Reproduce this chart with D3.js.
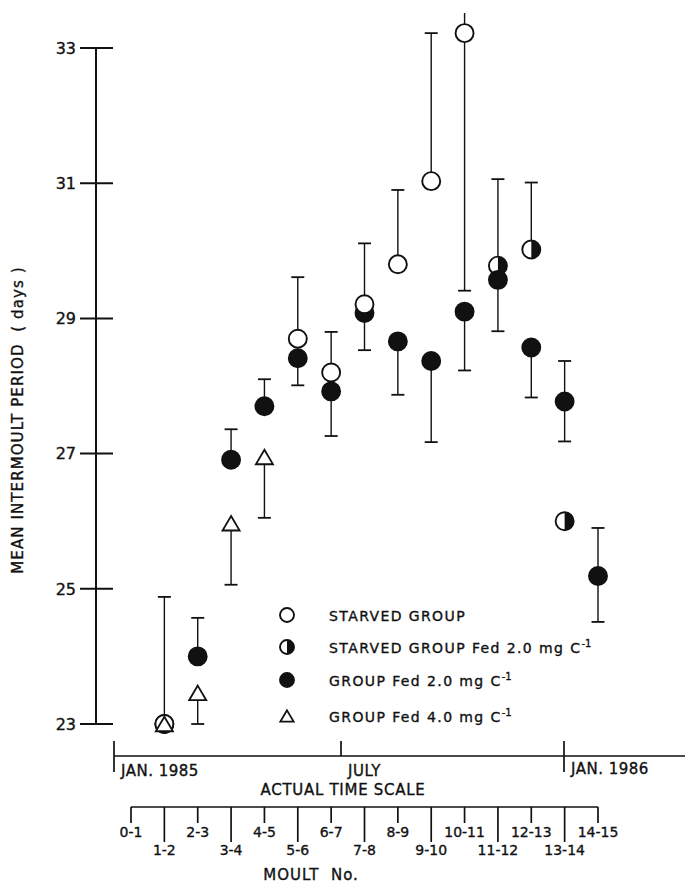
<!DOCTYPE html>
<html>
<head>
<meta charset="utf-8">
<script src="https://cdn.jsdelivr.net/npm/d3@7"></script>
<style>
  body { margin: 0; background: #fff; }
  text { font-family: "DejaVu Sans", sans-serif; fill: #111; stroke: #111; stroke-width: 0.35px; white-space: pre; }
</style>
</head>
<body>
<script>
// moult intervals and y ticks
var moultLabels = ["0-1","1-2","2-3","3-4","4-5","5-6","6-7","7-8","8-9","9-10","10-11","11-12","12-13","13-14","14-15"];
var yTickValues = [23, 25, 27, 29, 31, 33];

// actual time scale
var timeTickDates = ["1985-01-01", "1985-07-01", "1986-01-01"];
var timeTickLabels = ["JAN. 1985", "JULY", "JAN. 1986"];

// starved group (open circles)
var starvedMoult = [1, 5, 6, 7, 8, 9, 10];
var starvedMean  = [23.0, 28.70, 28.20, 29.21, 29.80, 31.03, 33.22];
var starvedLow   = [null, null, null, null, null, null, 29.41];
var starvedHigh  = [24.88, 29.61, 28.80, 30.11, 30.90, 33.22, 37.0];

// starved group fed 2.0 (half filled)
var starvedFedMoult = [11, 12, 13];
var starvedFedMean  = [29.78, 30.02, 26.0];
var starvedFedLow   = [null, null, null];
var starvedFedHigh  = [31.06, 31.01, null];

// group fed 2.0 (filled)
var fed2Moult = [1, 2, 3, 4, 5, 6, 7, 8, 9, 10, 11, 12, 13, 14];
var fed2Mean  = [23.0, 24.0, 26.91, 27.70, 28.41, 27.92, 29.08, 28.66, 28.37, 29.10, 29.57, 28.57, 27.77, 25.19];
var fed2Low   = [null, null, null, null, 28.01, 27.26, 28.53, 27.87, 27.17, 28.23, 28.81, 27.83, 27.18, 24.51];
var fed2High  = [null, 24.57, 27.36, 28.10, null, null, null, null, null, null, null, null, 28.37, 25.90];

// group fed 4.0 (triangles)
var fed4Moult = [1, 2, 3, 4];
var fed4Mean  = [23.0, 23.46, 25.97, 26.95];
var fed4Low   = [null, 23.0, 25.06, 26.05];
var fed4High  = [null, null, null, null];

var legendLabels = ["STARVED GROUP", "STARVED GROUP Fed 2.0 mg C", "GROUP Fed 2.0 mg C", "GROUP Fed 4.0 mg C"];

function makeSeries(kind, m, mean, lo, hi){
  return m.map(function(d, i){
    return {kind: kind, moult: d, mean: mean[i], lo: lo[i], hi: hi[i]};
  });
}
// draw order: half, filled, open, triangle
var series = [
  makeSeries("half", starvedFedMoult, starvedFedMean, starvedFedLow, starvedFedHigh),
  makeSeries("filled", fed2Moult, fed2Mean, fed2Low, fed2High),
  makeSeries("open", starvedMoult, starvedMean, starvedLow, starvedHigh),
  makeSeries("tri", fed4Moult, fed4Mean, fed4Low, fed4High)
];

var w = 685, h = 885;
var svg = d3.select("body").append("svg")
  .attr("width", w)
  .attr("height", h);

var x = d3.scaleLinear().domain([0, 14]).range([131, 598]);
var y = d3.scaleLinear().domain([23, 33]).range([724, 48]);
var t = d3.scaleTime()
  .domain(timeTickDates.map(function(d){ return new Date(d + "T00:00:00"); }))
  .range([114, 341, 564]);

svg.append("clipPath").attr("id", "plotclip")
  .append("rect").attr("x", 0).attr("y", 13).attr("width", w).attr("height", 730);

// y axis
var yAxis = svg.append("g").attr("class", "yaxis");
yAxis.append("line")
  .attr("x1", 96).attr("x2", 96)
  .attr("y1", y(33)).attr("y2", y(23))
  .style("stroke", "#111").style("stroke-width", 2);
yAxis.selectAll(".ytick").data(yTickValues).enter()
  .append("line")
  .attr("x1", 80).attr("x2", 113)
  .attr("y1", function(d){ return y(d); })
  .attr("y2", function(d){ return y(d); })
  .style("stroke", "#111").style("stroke-width", 2);
yAxis.selectAll(".ylab").data(yTickValues).enter()
  .append("text")
  .attr("x", 76)
  .attr("y", function(d){ return y(d); })
  .attr("dy", "0.36em")
  .attr("text-anchor", "end")
  .style("font-size", "16px")
  .text(function(d){ return d; });

svg.append("text")
  .attr("transform", "translate(23,420) rotate(-90)")
  .attr("text-anchor", "middle")
  .style("font-size", "15px")
  .style("letter-spacing", "1.1px")
  .text("MEAN INTERMOULT PERIOD  ( days )");

// error bars
var bars = svg.append("g").attr("clip-path", "url(#plotclip)");
series.forEach(function(s){
  s.forEach(function(d){
    [d.lo, d.hi].forEach(function(v){
      if (v === null) return;
      bars.append("line")
        .attr("x1", x(d.moult)).attr("x2", x(d.moult))
        .attr("y1", y(d.mean)).attr("y2", y(v))
        .style("stroke", "#111").style("stroke-width", 1.4);
      bars.append("line")
        .attr("x1", x(d.moult) - 6.5).attr("x2", x(d.moult) + 6.5)
        .attr("y1", y(v)).attr("y2", y(v))
        .style("stroke", "#111").style("stroke-width", 1.8);
    });
  });
});

// markers
function drawMarker(g, kind, cx, cy, r){
  if (kind === "tri"){
    var s = r * 0.95;
    g.append("path")
      .attr("d", "M" + cx + "," + (cy - s * 0.85) + "L" + (cx + s) + "," + (cy + s * 0.85) + "L" + (cx - s) + "," + (cy + s * 0.85) + "Z")
      .style("fill", "#fff").style("stroke", "#111").style("stroke-width", 1.8)
      .style("stroke-linejoin", "miter");
    return;
  }
  g.append("circle")
    .attr("cx", cx).attr("cy", cy).attr("r", r)
    .style("fill", kind === "filled" ? "#111" : "#fff")
    .style("stroke", "#111").style("stroke-width", 1.9);
  if (kind === "half"){
    var arc = d3.arc().innerRadius(0).outerRadius(r).startAngle(0).endAngle(Math.PI);
    g.append("path")
      .attr("transform", "translate(" + cx + "," + cy + ")")
      .attr("d", arc())
      .style("fill", "#111");
  }
}

var marks = svg.append("g");
series.forEach(function(s){
  s.forEach(function(d){
    drawMarker(marks, d.kind, x(d.moult), y(d.mean), 9);
  });
});

// legend
var legendKinds = ["open", "half", "filled", "tri"];
var legendY = [615, 647, 680, 716];
var legend = svg.append("g");
legendKinds.forEach(function(k, i){
  drawMarker(legend, k, 287, legendY[i], 7);
  var txt = legend.append("text")
    .attr("x", 329)
    .attr("y", legendY[i] + 5.5)
    .style("font-size", "14px")
    .style("letter-spacing", "1.4px")
    .text(legendLabels[i]);
  if (i > 0){
    txt.append("tspan")
      .attr("dy", "-6")
      .style("font-size", "10px")
      .style("letter-spacing", "0px")
      .text("-1");
  }
});

// actual time scale
var timeAxis = svg.append("g");
timeAxis.append("line")
  .attr("x1", t.range()[0]).attr("x2", w)
  .attr("y1", 756).attr("y2", 756)
  .style("stroke", "#111").style("stroke-width", 1.7);
timeAxis.selectAll(".ttick").data(timeTickDates).enter()
  .append("line")
  .attr("x1", function(d){ return t(new Date(d + "T00:00:00")); })
  .attr("x2", function(d){ return t(new Date(d + "T00:00:00")); })
  .attr("y1", 741)
  .attr("y2", function(d, i){ return i === 1 ? 756 : 772; })
  .style("stroke", "#111").style("stroke-width", 1.7);
timeAxis.selectAll(".tlab").data(timeTickDates).enter()
  .append("text")
  .attr("x", function(d){ return t(new Date(d + "T00:00:00")) + 7; })
  .attr("y", function(d, i){ return i === 2 ? 774 : 776; })
  .style("font-size", "15px")
  .style("letter-spacing", "0.5px")
  .text(function(d, i){ return timeTickLabels[i]; });
timeAxis.append("text")
  .attr("x", 343).attr("y", 795)
  .attr("text-anchor", "middle")
  .style("font-size", "15px")
  .style("letter-spacing", "0.7px")
  .text("ACTUAL TIME SCALE");

// moult axis
var moultAxis = svg.append("g");
moultAxis.append("line")
  .attr("x1", x(0)).attr("x2", x(14))
  .attr("y1", 807).attr("y2", 807)
  .style("stroke", "#111").style("stroke-width", 1.7);
moultAxis.selectAll(".mtick").data(moultLabels).enter()
  .append("line")
  .attr("x1", function(d, i){ return x(i); })
  .attr("x2", function(d, i){ return x(i); })
  .attr("y1", 807)
  .attr("y2", function(d, i){ return i % 2 === 0 ? 823 : 842; })
  .style("stroke", "#111").style("stroke-width", 1.7);
moultAxis.selectAll(".mlab").data(moultLabels).enter()
  .append("text")
  .attr("x", function(d, i){ return x(i); })
  .attr("y", function(d, i){ return i % 2 === 0 ? 837 : 855; })
  .attr("text-anchor", "middle")
  .style("font-size", "14px")
  .text(function(d){ return d; });
moultAxis.append("text")
  .attr("x", 311).attr("y", 880)
  .attr("text-anchor", "middle")
  .style("font-size", "15px")
  .style("letter-spacing", "1px")
  .text("MOULT  No.");
</script>
</body>
</html>
